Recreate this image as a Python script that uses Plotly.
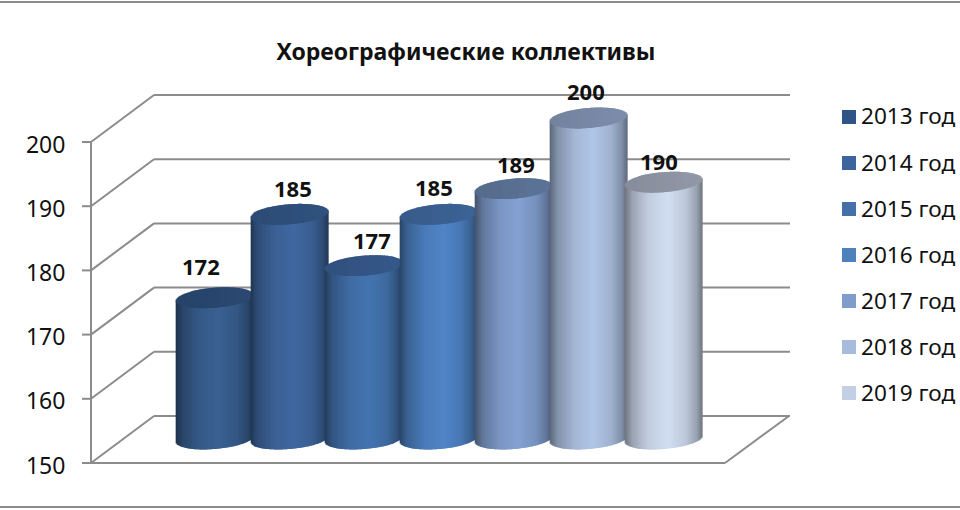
import numpy as np
import plotly.graph_objects as go

# dados do grafico
anos = ["2013 год", "2014 год", "2015 год", "2016 год", "2017 год", "2018 год", "2019 год"]
valores = [172, 185, 177, 185, 189, 200, 190]
ticks_y = [150, 160, 170, 180, 190, 200]
titulo = "Хореографические коллективы"

# cores
cor_legenda = ["#2f5587", "#3b659c", "#446fa9", "#4f81bd", "#7f9ccb", "#a7bbdc", "#c3cfe5"]
cor_corpo = ["#3a6192", "#4069a1", "#4575b0", "#5085c8", "#84a2d3", "#b1c6e8", "#d2def2"]
cor_topo = ["#2b4a73", "#30537f", "#36598a", "#3d6496", "#5d7598", "#7e8eac", "#9399a8"]
cor_linha = "#8c8c8c"

# deslocamento dos rotulos em pixels
rotulo_dx = [-14, 4, 8, -5, 2, -3, -4]
rotulo_dy = [32, 26, 26, 27, 25, 27, 21]

L, A = 960, 510
PX_UNID = 6.42
PASSO_X = 74.83
X0 = 214.5
RAIO_X = 38.5
RAIO_Y = 10.0
INCLINA = 3.0
N_FAIXAS = 78

# sombreamento do cilindro, da esquerda para a direita
sombra_t = [-1, -0.8, -0.35, 0.15, 0.6, 0.88, 1]
sombra_v = [0.52, 0.74, 0.93, 1.0, 0.9, 0.72, 0.55]


def px_x(x):
    return x / L


def px_y(y):
    return 1 - y / A


def escurecer(cor, fator):
    r, g, b = int(cor[1:3], 16), int(cor[3:5], 16), int(cor[5:7], 16)
    return f"rgb({int(r * fator)},{int(g * fator)},{int(b * fator)})"


def linha(x0, y0, x1, y1):
    return dict(type="line", xref="paper", yref="paper", layer="below",
                x0=px_x(x0), y0=px_y(y0), x1=px_x(x1), y1=px_y(y1),
                line=dict(color=cor_linha, width=2))


fig = go.Figure()

# traco invisivel so para o eixo de valores aparecer
fig.add_trace(go.Scatter(x=[0], y=[150], mode="markers", marker=dict(opacity=0),
                         hoverinfo="skip", showlegend=False, xaxis="x", yaxis="y"))

# cada cilindro e um go.Bar feito de faixas estreitas
t = (np.arange(N_FAIXAS) + 0.5) / N_FAIXAS * 2 - 1
larg = RAIO_X * 2 / N_FAIXAS / PASSO_X
arco = RAIO_Y * np.sqrt(1 - t ** 2) / PX_UNID
incl = INCLINA * t / PX_UNID
sombra = np.interp(t, sombra_t, sombra_v)

for i, (nome, val) in enumerate(zip(anos, valores)):
    xs = i + t * RAIO_X / PASSO_X
    base_corpo = 150 - arco + incl
    topo_corpo = val + incl
    base_tampa = val - arco + incl
    topo_tampa = val + arco + incl
    cores_corpo = [escurecer(cor_corpo[i], s) for s in sombra]
    cores_tampa = [escurecer(cor_topo[i], 0.92 + 0.08 * (v + 1) / 2) for v in t]
    fig.add_trace(go.Bar(
        x=np.concatenate([xs, xs]),
        y=np.concatenate([topo_corpo - base_corpo, topo_tampa - base_tampa]),
        base=np.concatenate([base_corpo, base_tampa]),
        width=larg * 1.25,
        marker=dict(color=cores_corpo + cores_tampa, line=dict(width=0)),
        name=nome,
        hoverinfo="skip",
        showlegend=False,
        xaxis="x",
        yaxis="y2",
    ))

# paredes e grade em perspectiva
formas = [
    linha(0, 2, L, 2),
    linha(0, 507, L, 507),
    linha(91, 142, 91, 463),
    linha(91, 463, 725, 463),
    linha(725, 463, 789, 416),
]
for v in ticks_y:
    y = 463 - (v - 150) * PX_UNID
    formas.append(linha(82, y, 91, y))
    formas.append(linha(91, y, 154, y - 47))
    formas.append(linha(154, y - 47, 790, y - 47))

# legenda
notas = []
for i, nome in enumerate(anos):
    yc = 117 + 46 * i
    formas.append(dict(type="rect", xref="paper", yref="paper",
                       x0=px_x(842), x1=px_x(856), y0=px_y(yc - 7), y1=px_y(yc + 7),
                       fillcolor=cor_legenda[i], line=dict(width=0)))
    notas.append(dict(text=nome, xref="paper", yref="paper", x=px_x(859), y=px_y(yc - 1),
                      xanchor="left", yanchor="middle", showarrow=False,
                      font=dict(family="Noto Sans", size=22.6, color="#111111")))

# rotulos de dados
for i, val in enumerate(valores):
    notas.append(dict(text=f"<b>{val}</b>", x=i, y=val, xref="x", yref="y2",
                      xshift=rotulo_dx[i], yshift=rotulo_dy[i],
                      showarrow=False, xanchor="center", yanchor="middle",
                      font=dict(family="Noto Sans", size=22, color="#111111")))

fig.update_layout(
    width=L,
    height=A,
    margin=dict(l=0, r=0, t=0, b=0, autoexpand=False),
    paper_bgcolor="white",
    plot_bgcolor="rgba(0,0,0,0)",
    barmode="overlay",
    showlegend=False,
    title=dict(text=f"<b>{titulo}</b>", x=px_x(466), y=px_y(52), xanchor="center", yanchor="middle",
               font=dict(family="Noto Sans", size=23, color="#111111")),
    xaxis=dict(domain=[px_x(X0 - PASSO_X), px_x(X0 + 7 * PASSO_X)], range=[-1, 7], visible=False),
    yaxis=dict(
        # eixo 2.5 px abaixo para centrar os numeros; os tracinhos vem das formas
        domain=[px_y(465.5), px_y(144.5)],
        range=[150, 200],
        tickvals=ticks_y,
        anchor="free",
        position=px_x(91),
        ticks="outside",
        ticklen=9,
        tickwidth=2,
        tickcolor="rgba(0,0,0,0)",
        showline=False,
        showgrid=False,
        zeroline=False,
        ticklabelstandoff=12,
        tickfont=dict(family="Noto Sans", size=23, color="#111111"),
    ),
    yaxis2=dict(
        domain=[px_y(439 + 6 * PX_UNID), px_y(439 - 58 * PX_UNID)],
        range=[144, 208],
        anchor="x",
        visible=False,
    ),
    shapes=formas,
    annotations=notas,
)

fig.write_html("out.html", config={"displayModeBar": False},
               post_script="document.body.style.margin='0'")
